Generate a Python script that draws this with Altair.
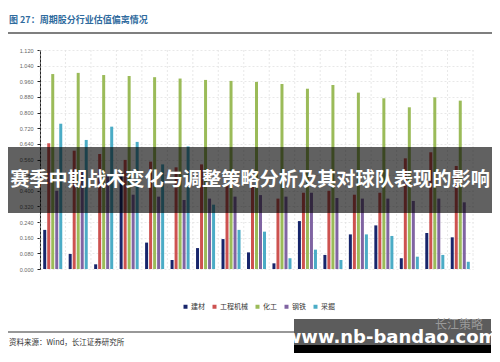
import altair as alt
import pandas as pd

dates = ["2017-1-31", "2017-2-28", "2017-3-31", "2017-4-30", "2017-5-31", "2017-6-30",
         "2017-7-31", "2017-8-31", "2017-9-30", "2017-10-31", "2017-11-30", "2017-12-31",
         "2018-1-31", "2018-2-28", "2018-3-31", "2018-4-30", "2018-6-11"]
series = ["建材", "工程机械", "化工", "钢铁", "采掘"]
colors = ["#17256b", "#cd5250", "#9bbb59", "#8064a2", "#4bacc6"]

jiancai = [0.200, 0.077, 0.024, 0.490, 0.135, 0.046, 0.107, 0.153, 0.085, 0.029, 0.245, 0.072, 0.177, 0.223, 0.055, 0.184, 0.162]
gongcheng = [0.643, 0.605, 0.588, 0.558, 0.549, 0.520, 0.535, 0.430, 0.420, 0.360, 0.390, 0.400, 0.380, 0.390, 0.566, 0.597, 0.527]
huagong = [0.997, 1.003, 0.992, 0.987, 0.981, 0.974, 0.967, 0.962, 0.957, 0.946, 0.922, 0.941, 0.902, 0.873, 0.827, 0.878, 0.861]
gangtie = [0.400, 0.506, 0.480, 0.380, 0.370, 0.353, 0.360, 0.370, 0.378, 0.370, 0.390, 0.363, 0.360, 0.360, 0.348, 0.360, 0.341]
caijue = [0.743, 0.660, 0.728, 0.650, 0.535, 0.627, 0.329, 0.200, 0.191, 0.055, 0.099, 0.046, 0.177, 0.169, 0.063, 0.072, 0.037]

y_ticks = [round(0.08 * i, 2) for i in range(15)]

title_text = "图 27：周期股分行业估值偏离情况"
source_text = "资料来源：Wind，长江证券研究所"
banner_text = "赛季中期战术变化与调整策略分析及其对球队表现的影响"
mark_text = "www.nb-bandao.com"
brand_text = "长江策略"

rows = []
for s, vals in zip(series, [jiancai, gongcheng, huagong, gangtie, caijue]):
    for d, v in zip(dates, vals):
        rows.append({"date": d, "series": s, "value": v})
df = pd.DataFrame(rows)
one = pd.DataFrame({"k": [0]})

W, H = 433, 219

xscale = alt.Scale(domain=dates, paddingInner=0, paddingOuter=0)

grid_v = alt.Chart(pd.DataFrame({"date": dates})).mark_rule(
    color="#e2e2e2", strokeDash=[2, 2], strokeWidth=0.8
).encode(
    x=alt.X("date:N", sort=dates, scale=xscale, bandPosition=0, axis=None),
    y=alt.value(0), y2=alt.value(H)
)
grid_end = alt.Chart(one).mark_rule(color="#e2e2e2", strokeDash=[2, 2], strokeWidth=0.8).encode(
    x=alt.value(W), y=alt.value(0), y2=alt.value(H)
)

bars = alt.Chart(df).mark_bar(size=3).encode(
    x=alt.X("date:N", sort=dates, scale=xscale, title=None,
            axis=alt.Axis(labelAngle=-45, labelFontSize=5, labelColor="#555", labelFont="Liberation Sans",
                          domainColor="#333", tickColor="#333", tickSize=3, labelPadding=1, grid=False)),
    xOffset=alt.XOffset("series:N", sort=series, scale=alt.Scale(domain=series, paddingInner=0.25, paddingOuter=0.8)),
    y=alt.Y("value:Q", title=None,
            scale=alt.Scale(domain=[0, 1.12], nice=False, zero=True),
            axis=alt.Axis(values=y_ticks, format=".3f", labelFontSize=5.5, labelColor="#666",
                          labelFont="Liberation Sans", domainColor="#222", tickColor="#222", tickSize=3,
                          labelPadding=4, grid=True, gridColor="#e2e2e2", gridDash=[2, 2], gridWidth=0.8)),
    color=alt.Color("series:N", sort=series, scale=alt.Scale(domain=series, range=colors),
                    legend=alt.Legend(orient="none", legendX=142, legendY=253, direction="horizontal",
                                      title=None, symbolType="square", symbolSize=16, symbolStrokeWidth=0,
                                      labelFontSize=7, labelColor="#333", labelFont="Noto Sans CJK SC",
                                      columnPadding=6, symbolOffset=0, labelOffset=2))
)

title = alt.Chart(one).mark_text(text=title_text, align="left", baseline="middle", fontSize=9,
                                 fontWeight="bold", color="#2f6b9e", font="Noto Sans CJK SC").encode(
    x=alt.value(-31), y=alt.value(-30))
top_line = alt.Chart(one).mark_rule(color="#555", strokeWidth=1.5).encode(
    x=alt.value(-40), x2=alt.value(470), y=alt.value(-17))
bottom_line = alt.Chart(one).mark_rule(color="#333", strokeWidth=1.2).encode(
    x=alt.value(-40), x2=alt.value(470), y=alt.value(282))
source = alt.Chart(one).mark_text(text=source_text, align="left", baseline="middle", fontSize=7.5,
                                  color="#333", font="Noto Sans CJK SC").encode(
    x=alt.value(-31), y=alt.value(293))

band = alt.Chart(one).mark_rect(color="#000000", opacity=0.62).encode(
    x=alt.value(-40), x2=alt.value(470), y=alt.value(97), y2=alt.value(163))
banner = alt.Chart(one).mark_text(text=banner_text, align="center", baseline="middle", fontSize=19.2,
                                  fontWeight="bold", color="#ffffff", font="Noto Sans CJK SC").encode(
    x=alt.value(210), y=alt.value(130))

wm_box = alt.Chart(one).mark_rect(color="#5c5c5c").encode(
    x=alt.value(254), x2=alt.value(451), y=alt.value(269), y2=alt.value(295))
wm_strip = alt.Chart(one).mark_rect(color="#000000").encode(
    x=alt.value(254), x2=alt.value(451), y=alt.value(295), y2=alt.value(303))
brand = alt.Chart(one).mark_text(text=brand_text, align="left", baseline="middle", fontSize=12,
                                 color="#9a9a9a", font="Noto Sans CJK SC").encode(
    x=alt.value(395), y=alt.value(275))
wm_text = alt.Chart(one).mark_text(text=mark_text, align="center", baseline="middle", fontSize=18,
                                   fontWeight="bold", color="#ffffff", font="DejaVu Sans").encode(
    x=alt.value(351), y=alt.value(288))

chart = alt.layer(
    grid_v, grid_end, bars, title, top_line, bottom_line, source, band, banner,
    wm_box, wm_strip, brand, wm_text
).properties(
    width=W, height=H,
    autosize=alt.AutoSizeParams(type="none"),
    padding={"left": 32, "top": 42, "right": 19, "bottom": 85}
).configure_view(stroke=None)

chart.save("out.html", embed_options={"renderer": "svg", "actions": False})
